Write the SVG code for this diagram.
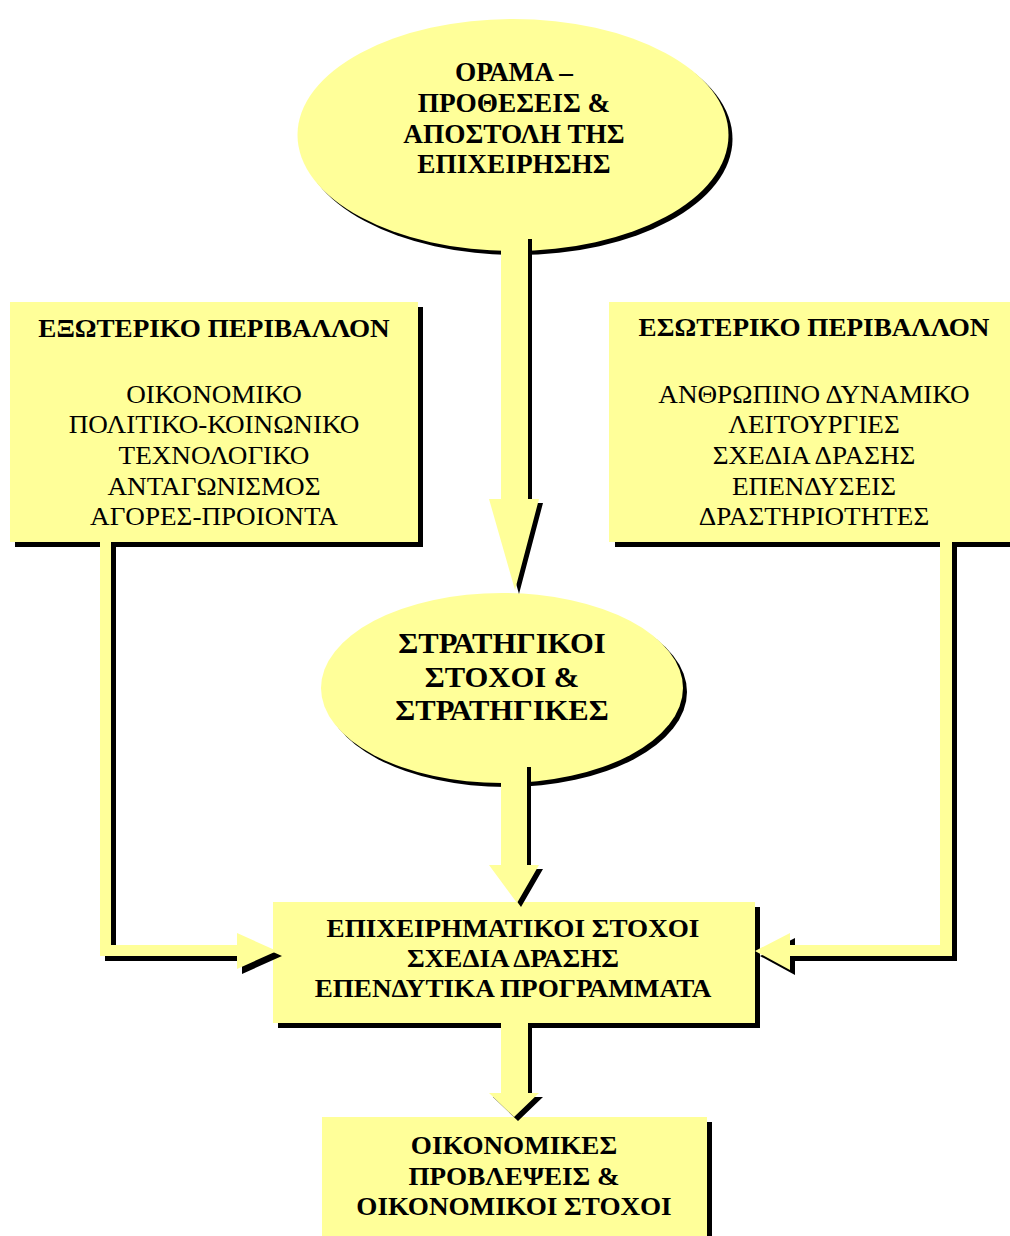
<svg xmlns="http://www.w3.org/2000/svg" width="1010" height="1236" viewBox="0 0 1010 1236">
<style>
.fill{fill:#FFFF99}
.sh{fill:#000}
text{font-family:"Liberation Serif","Times New Roman",serif;fill:#000;text-anchor:middle}
.b{font-weight:bold}
</style>
<rect width="1010" height="1236" fill="#fff"/>
<g id="vision">
<ellipse class="sh" cx="517" cy="139" rx="215.5" ry="116"/>
<ellipse class="fill" cx="513" cy="135" rx="215.5" ry="116"/>
<g transform="translate(514,0) scale(1.03,1)">
<text class="b" font-size="26.5" x="0" y="81">ΟΡΑΜΑ –</text>
<text class="b" font-size="26.5" x="0" y="112">ΠΡΟΘΕΣΕΙΣ &amp;</text>
<text class="b" font-size="26.5" x="0" y="143">ΑΠΟΣΤΟΛΗ ΤΗΣ</text>
<text class="b" font-size="26.5" x="0" y="173">ΕΠΙΧΕΙΡΗΣΗΣ</text>
</g>
</g>
<g id="external">
<rect class="sh" x="15" y="307" width="408" height="240"/>
<rect class="fill" x="10" y="302" width="408" height="240"/>
<g transform="translate(214,0) scale(1.108,1)">
<text class="b" font-size="24.5" x="0" y="337">ΕΞΩΤΕΡΙΚΟ ΠΕΡΙΒΑΛΛΟΝ</text>
<text font-size="24.5" x="0" y="403">ΟΙΚΟΝΟΜΙΚΟ</text>
<text font-size="24.5" x="0" y="433">ΠΟΛΙΤΙΚΟ-ΚΟΙΝΩΝΙΚΟ</text>
<text font-size="24.5" x="0" y="464">ΤΕΧΝΟΛΟΓΙΚΟ</text>
<text font-size="24.5" x="0" y="495">ΑΝΤΑΓΩΝΙΣΜΟΣ</text>
<text font-size="24.5" x="0" y="525">ΑΓΟΡΕΣ-ΠΡΟΙΟΝΤΑ</text>
</g>
</g>
<g id="internal">
<rect class="sh" x="615" y="307" width="420" height="240"/>
<rect class="fill" x="609" y="302" width="420" height="240"/>
<g transform="translate(814,0) scale(1.108,1)">
<text class="b" font-size="24.5" x="0" y="336">ΕΣΩΤΕΡΙΚΟ ΠΕΡΙΒΑΛΛΟΝ</text>
<text font-size="24.5" x="0" y="403">ΑΝΘΡΩΠΙΝΟ ΔΥΝΑΜΙΚΟ</text>
<text font-size="24.5" x="0" y="433">ΛΕΙΤΟΥΡΓΙΕΣ</text>
<text font-size="24.5" x="0" y="464">ΣΧΕΔΙΑ ΔΡΑΣΗΣ</text>
<text font-size="24.5" x="0" y="495">ΕΠΕΝΔΥΣΕΙΣ</text>
<text font-size="24.5" x="0" y="525">ΔΡΑΣΤΗΡΙΟΤΗΤΕΣ</text>
</g>
</g>
<g id="strategic">
<ellipse class="sh" cx="506" cy="692" rx="181" ry="95"/>
<ellipse class="fill" cx="502" cy="688" rx="181" ry="95"/>
<g transform="translate(502,0) scale(1.02,1)">
<text class="b" font-size="30" x="0" y="653">ΣΤΡΑΤΗΓΙΚΟΙ</text>
<text class="b" font-size="30" x="0" y="687">ΣΤΟΧΟΙ &amp;</text>
<text class="b" font-size="30" x="0" y="720">ΣΤΡΑΤΗΓΙΚΕΣ</text>
</g>
</g>
<g id="business">
<rect class="sh" x="278" y="907" width="482" height="121"/>
<rect class="fill" x="273" y="902" width="482" height="121"/>
<g transform="translate(513,0) scale(1.085,1)">
<text class="b" font-size="25" x="0" y="937">ΕΠΙΧΕΙΡΗΜΑΤΙΚΟΙ ΣΤΟΧΟΙ</text>
<text class="b" font-size="25" x="0" y="967">ΣΧΕΔΙΑ ΔΡΑΣΗΣ</text>
<text class="b" font-size="25" x="0" y="997">ΕΠΕΝΔΥΤΙΚΑ ΠΡΟΓΡΑΜΜΑΤΑ</text>
</g>
</g>
<g id="financial">
<rect class="sh" x="327" y="1122" width="385" height="130"/>
<rect class="fill" x="322" y="1117" width="385" height="130"/>
<g transform="translate(514,0) scale(1.107,1)">
<text class="b" font-size="24.5" x="0" y="1154">ΟΙΚΟΝΟΜΙΚΕΣ</text>
<text class="b" font-size="24.5" x="0" y="1185">ΠΡΟΒΛΕΨΕΙΣ &amp;</text>
<text class="b" font-size="24.5" x="0" y="1215">ΟΙΚΟΝΟΜΙΚΟΙ ΣΤΟΧΟΙ</text>
</g>
</g>
<g id="connectors">
<g transform="translate(4,4)" class="sh">
<polygon points="501,235 528,235 528,499 539,499 515,590 489,499 501,499"/>
<polygon points="501,763 527,763 527,865 539,865 517,903 489,865 501,865"/>
<polygon points="501,1023 528,1023 528,1093 539,1093 514,1117 489,1093 501,1093"/>
</g>
<g transform="translate(5,5)" class="sh">
<polygon points="100,542 111,542 111,945 237,945 237,933 277,951 237,969 237,956 100,956"/>
<polygon points="940,542 952,542 952,956 790,956 790,970 755,951 790,933 790,945 940,945"/>
</g>
<g class="fill">
<polygon points="501,235 528,235 528,499 539,499 515,590 489,499 501,499"/>
<polygon points="501,763 527,763 527,865 539,865 517,903 489,865 501,865"/>
<polygon points="501,1023 528,1023 528,1093 539,1093 514,1117 489,1093 501,1093"/>
<polygon points="100,542 111,542 111,945 237,945 237,933 277,951 237,969 237,956 100,956"/>
<polygon points="940,542 952,542 952,956 790,956 790,970 755,951 790,933 790,945 940,945"/>
</g>
</g>
</svg>
